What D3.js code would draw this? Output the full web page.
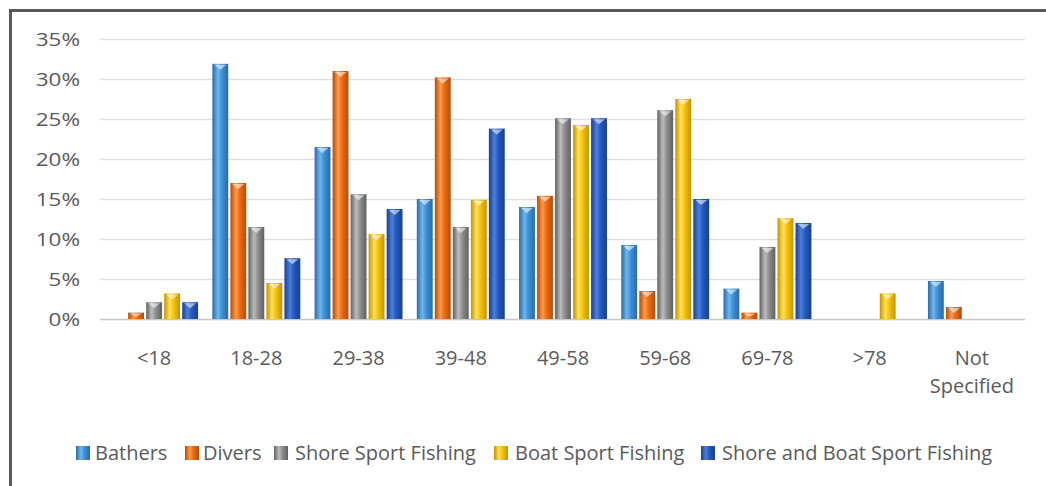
<!DOCTYPE html>
<html>
<head>
<meta charset="utf-8">
<script src="https://cdn.jsdelivr.net/npm/d3@7/dist/d3.min.js"></script>
<style>
  html, body { margin: 0; padding: 0; background: #fff; }
  svg { display: block; }
  text { font-family: "Open Sans", "DejaVu Sans", sans-serif; fill: #5a5a5a; }
</style>
</head>
<body>
<svg id="chart" width="1046" height="486"></svg>
<script>
const categories = ["<18", "18-28", "29-38", "39-48", "49-58", "59-68", "69-78", ">78", "Not Specified"];
const seriesNames = ["Bathers", "Divers", "Shore Sport Fishing", "Boat Sport Fishing", "Shore and Boat Sport Fishing"];
const bathers      = [0,    31.9, 21.5, 15.0, 14.0,  9.25, 3.8, 0,   4.75];
const divers       = [0.8,  17.0, 31.0, 30.2, 15.4,  3.5,  0.8, 0,   1.5];
const shoreSport   = [2.1,  11.5, 15.6, 11.5, 25.1, 26.1,  9.0, 0,   0];
const boatSport    = [3.2,   4.5, 10.6, 14.9, 24.25, 27.5, 12.6, 3.2, 0];
const shoreAndBoat = [2.1,   7.6, 13.75, 23.8, 25.1, 15.0, 12.0, 0,  0];
const yTicks = [0, 5, 10, 15, 20, 25, 30, 35];
const seriesValues = [bathers, divers, shoreSport, boatSport, shoreAndBoat];
const colors = ["#3d8fd6", "#ec6a12", "#8e8e8e", "#f4c20a", "#2358bd"];
const darks  = ["#2a6aa8", "#b44d08", "#606060", "#c49300", "#17408f"];
const lights = ["#6fb6ec", "#ff9a4a", "#bcbcbc", "#ffe05a", "#4c80dc"];

const svg = d3.select("#chart");
const defs = svg.append("defs");
seriesNames.forEach((s, i) => {
  const g = defs.append("linearGradient").attr("id", "g" + i)
    .attr("x1", "0%").attr("x2", "100%").attr("y1", "0%").attr("y2", "0%");
  g.append("stop").attr("offset", "0%").attr("stop-color", darks[i]);
  g.append("stop").attr("offset", "35%").attr("stop-color", lights[i]);
  g.append("stop").attr("offset", "60%").attr("stop-color", colors[i]);
  g.append("stop").attr("offset", "100%").attr("stop-color", darks[i]);
});

// frame
svg.append("rect").attr("x", 10.5).attr("y", 10.5).attr("width", 1050).attr("height", 500)
  .attr("fill", "none").attr("stroke", "#5a5a5a").attr("stroke-width", 3);

const y = d3.scaleLinear().domain([0, 35]).range([319, 39]);
const x = d3.scaleBand().domain(categories).range([103, 1023]).paddingInner(0.14).paddingOuter(0.07);
const xi = d3.scaleBand().domain(seriesNames).range([0, x.bandwidth()]).paddingInner(0.12).paddingOuter(0);

// gridlines
svg.append("g").selectAll("line").data(yTicks).join("line")
  .attr("x1", 100).attr("x2", 1025)
  .attr("y1", d => y(d) + 0.5).attr("y2", d => y(d) + 0.5)
  .attr("stroke", d => d === 0 ? "#c8c8c8" : "#e0e0e0").attr("stroke-width", 1.5);

// y labels
svg.append("g").selectAll("text").data(yTicks).join("text")
  .attr("transform", d => `translate(80,${y(d) + 7}) scale(1.25,1)`)
  .attr("text-anchor", "end").attr("font-size", 18)
  .text(d => d + "%");

// bars
const groups = svg.append("g").selectAll("g").data(categories).join("g")
  .attr("transform", c => `translate(${x(c)},0)`);
groups.each(function(c, ci) {
  const g = d3.select(this);
  seriesNames.forEach((s, si) => {
    const v = seriesValues[si][ci];
    if (!v) return;
    const bx = xi(s), bw = xi.bandwidth();
    g.append("rect").attr("x", bx).attr("y", y(v)).attr("width", bw).attr("height", y(0) - y(v))
      .attr("fill", `url(#g${si})`);
    const top = y(v);
    const capH = Math.min(5, (y(0) - y(v)) / 2);
    g.append("path")
      .attr("d", `M${bx + 2},${top + 1}L${bx + bw - 2},${top + 1}L${bx + bw / 2},${top + 1 + capH}Z`)
      .attr("fill", "#ffffff").attr("opacity", 0.55);
  });
});

// x labels
const xl = svg.append("g").selectAll("text").data(categories).join("text")
  .attr("x", c => x(c) + x.bandwidth() / 2).attr("y", 365)
  .attr("text-anchor", "middle").attr("font-size", 20);
xl.each(function(c) {
  const t = d3.select(this);
  const words = c === "Not Specified" ? ["Not", "Specified"] : [c];
  words.forEach((w, i) => {
    t.append("tspan").attr("x", x(c) + x.bandwidth() / 2).attr("dy", i === 0 ? 0 : 28).text(w);
  });
});

// legend
const legendX = [76, 185, 274, 494, 701];
const lg = svg.append("g").selectAll("g").data(seriesNames).join("g")
  .attr("transform", (d, i) => `translate(${legendX[i]},0)`);
lg.append("rect").attr("x", 0).attr("y", 446).attr("width", 14).attr("height", 14)
  .attr("fill", (d, i) => `url(#g${i})`);
lg.append("text").attr("x", (d, i) => i === 0 ? 19 : (i === 1 ? 18 : 21)).attr("y", 460).attr("font-size", 20)
  .text(d => d);
</script>
</body>
</html>
